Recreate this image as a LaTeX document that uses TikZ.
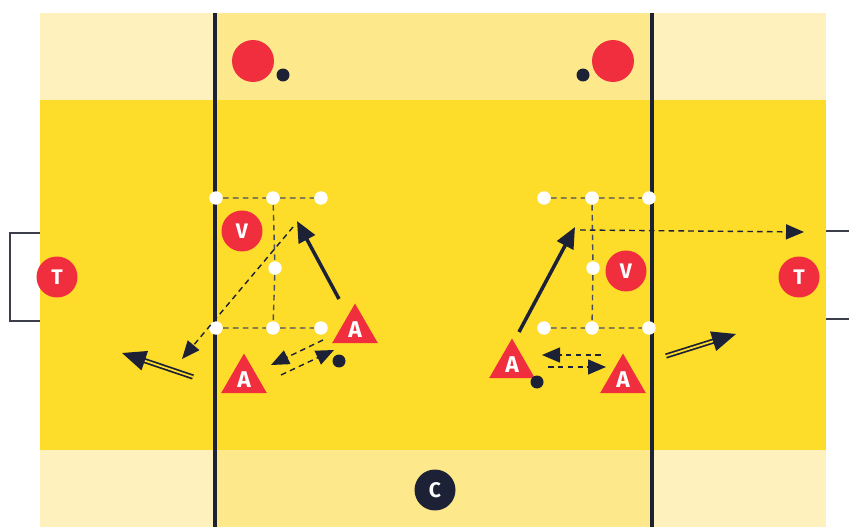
\documentclass[tikz,border=0pt]{standalone}
\usepackage{fontspec}
\setmainfont{Fira Sans}
\usetikzlibrary{arrows.meta, shapes.geometric, positioning, calc}
\definecolor{cRed}{RGB}{240,46,62}
\definecolor{cNavy}{RGB}{28,33,54}
\definecolor{cYellow}{RGB}{253,220,42}
\definecolor{cPale}{RGB}{254,241,189}
\definecolor{cPaleMid}{RGB}{253,233,140}
\definecolor{cGoal}{RGB}{60,62,75}
\tikzset{
	player/.style  ={circle, fill=cRed, text=white, font=\fontsize{12}{14}\selectfont\bfseries, minimum size=0.82cm, inner sep=0pt},
	coach/.style   ={player, fill=cNavy},
	attacker/.style={regular polygon, regular polygon sides=3, fill=cRed, text=white, font=\fontsize{13}{14}\selectfont\bfseries, minimum size=1.06cm, inner sep=0pt},
	cone/.style    ={circle, fill=white, minimum size=0.27cm, inner sep=0pt},
	ball/.style    ={circle, fill=cNavy, minimum size=0.26cm, inner sep=0pt},
	marker/.style  ={circle, fill=cRed, minimum size=0.84cm, inner sep=0pt},
	gridline/.style={draw=cNavy!80, line width=0.8pt, dash pattern=on 3.2pt off 2.4pt},
	% movement styles
	run/.style     ={draw=cNavy, line width=2pt, -{Triangle[length=0.42cm, width=0.36cm]}},
	pass/.style    ={draw=cNavy, line width=0.8pt, dash pattern=on 3.2pt off 2.4pt, -{Triangle[length=0.36cm, width=0.3cm]}},
	dribble/.style ={draw=cNavy, double=cYellow, double distance=1pt, line width=1pt, shorten >=0.4cm},
	dribtip/.style ={draw=cNavy, line width=1pt, -{Triangle[length=0.48cm, width=0.4cm]}},
}
\begin{document}
\begin{tikzpicture}[x=0.02cm, y=-0.02cm]
	\useasboundingbox (0,0) rectangle (849,527);
	% pitch
	\fill[cPale] (40,13) rectangle (826,527);
	\fill[cPaleMid] (215,13) rectangle (652,527);
	\fill[cYellow] (40,100) rectangle (826,450);
	\draw[cGoal, line width=1.3pt] (40,233) -- (10,233) -- (10,321) -- (40,321);
	\draw[cGoal, line width=1.3pt] (849,231) -- (826,231) (826,319) -- (849,319);
	\draw[cNavy, line width=2pt] (215,13) -- (215,527);
	\draw[cNavy, line width=2pt] (652,13) -- (652,527);

	% cones
	\foreach \n/\x/\y in {l1/216/198, l2/273/198, l3/321/198, l4/275/268, l5/216/328, l6/273/328, l7/321/328,
	                      r1/544/198, r2/592/198, r3/649/198, r4/593/268, r5/544/328, r6/592/328, r7/649/328} {
		\node[cone] (c\n) at (\x,\y) {};
	}
	\draw[gridline] (cl1) -- (cl2) -- (cl3) (cl5) -- (cl6) -- (cl7) (cl2) -- (cl4) -- (cl6);
	\draw[gridline] (cr1) -- (cr2) -- (cr3) (cr5) -- (cr6) -- (cr7) (cr2) -- (cr4) -- (cr6);

	% players
	\node[player] (tL) at (57,277) {T};
	\node[player] (tR) at (799,277) {T};
	\node[player] (vL) at (242,231) {V};
	\node[player] (vR) at (626,271) {V};
	\node[coach] (coach) at (435,490) {C};
	\node[marker] (mL) at (253,61) {};
	\node[marker] (mR) at (613,61) {};
	\node[ball] (bL) at (283,75) {};
	\node[ball] (bR) at (583,75) {};

	\node[attacker] (aL1) at (355,330) {A};
	\node[attacker] (aL2) at (244,380) {A};
	\node[attacker] (aR1) at (512,365) {A};
	\node[attacker] (aR2) at (623,380) {A};
	\node[ball] (bL2) at (339,361) {};
	\node[ball] (bR2) at (537,382) {};

	% left half movements
	\coordinate (runLs) at (339,299);  \coordinate (runLe) at (297,221);
	\coordinate (pLs) at (293,227);    \coordinate (pLe) at (182,359);
	\coordinate (dLs) at (193,377);    \coordinate (dLe) at (122,353);
	\coordinate (qLs) at (323,340);    \coordinate (qLe) at (271,365);
	\coordinate (sLs) at (281,375);    \coordinate (sLe) at (334,350);
	\draw[run] (runLs) -- (runLe);
	\draw[pass] (pLs) -- (pLe);
	\draw[dribble] (dLs) -- (dLe);
	\draw[dribtip] ($(dLs)!0.7!(dLe)$) -- (dLe);
	\draw[pass] (qLs) -- (qLe);
	\draw[pass] (sLs) -- (sLe);

	% right half movements
	\coordinate (runRs) at (519,332);  \coordinate (runRe) at (575,227);
	\coordinate (pRs) at (580,230);    \coordinate (pRe) at (804,232);
	\coordinate (dRs) at (666,356);    \coordinate (dRe) at (736,334);
	\coordinate (qRs) at (601,355);    \coordinate (qRe) at (542,355);
	\coordinate (sRs) at (548,367);    \coordinate (sRe) at (606,367);
	\draw[run] (runRs) -- (runRe);
	\draw[pass] (pRs) -- (pRe);
	\draw[dribble] (dRs) -- (dRe);
	\draw[dribtip] ($(dRs)!0.7!(dRe)$) -- (dRe);
	\draw[pass] (qRs) -- (qRe);
	\draw[pass] (sRs) -- (sRe);
\end{tikzpicture}
\end{document}
